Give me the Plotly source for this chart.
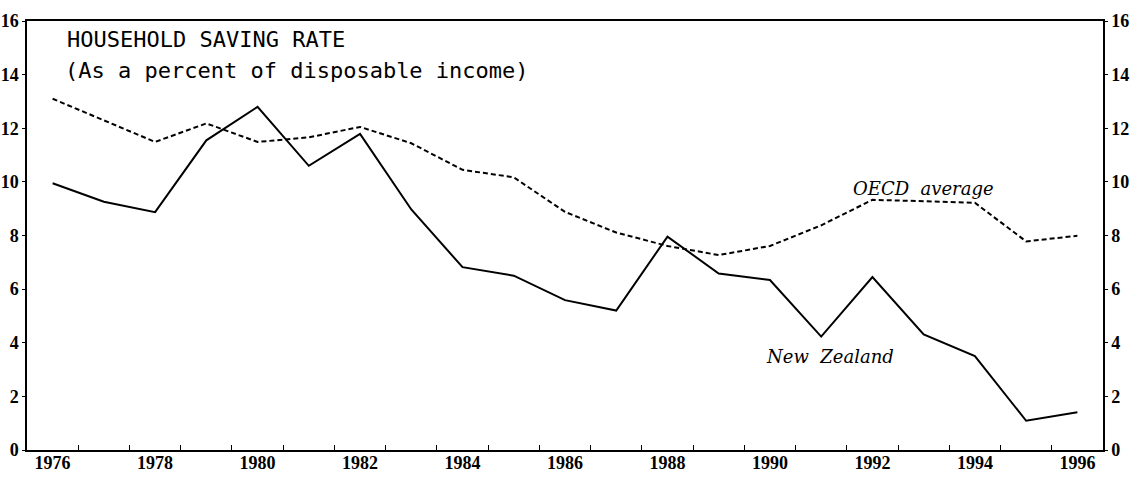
import plotly.graph_objects as go

years = list(range(1976, 1997))
new_zealand = [9.95, 9.26, 8.87, 11.55, 12.8, 10.6, 11.79, 8.97, 6.82, 6.5, 5.59,
               5.2, 7.96, 6.58, 6.34, 4.23, 6.45, 4.31, 3.5, 1.09, 1.41]
oecd_average = [13.1, 12.3, 11.49, 12.18, 11.49, 11.66, 12.05, 11.44, 10.45, 10.17, 8.88,
                8.11, 7.61, 7.27, 7.61, 8.38, 9.33, 9.28, 9.22, 7.78, 7.99]
x_tick_labels = [str(y) for y in range(1976, 1997, 2)]
y_ticks = list(range(0, 17, 2))

tick_font = dict(family="Liberation Serif", size=18, color="black", weight="bold")

fig = go.Figure()
fig.add_trace(go.Scatter(x=years, y=oecd_average, mode="lines",
                         line=dict(color="black", width=2, dash="5px,3px"),
                         showlegend=False))
fig.add_trace(go.Scatter(x=years, y=new_zealand, mode="lines",
                         line=dict(color="black", width=2),
                         showlegend=False))
# invisible trace to activate right axis
fig.add_trace(go.Scatter(x=[years[0]], y=[0], yaxis="y2", mode="markers",
                         marker=dict(opacity=0), showlegend=False, hoverinfo="skip"))

fig.update_layout(
    width=1138, height=481,
    margin=dict(l=27, r=35, t=21, b=31),
    paper_bgcolor="white", plot_bgcolor="white",
    xaxis=dict(range=[1975.5, 1996.5], tickvals=[int(t) for t in x_tick_labels],
               ticktext=x_tick_labels, ticks="", showgrid=False, zeroline=False,
               showline=True, linecolor="black", linewidth=1.5, mirror=True,
               tickfont=tick_font, ticklabelstandoff=-4, automargin=False,
               minor=dict(tickvals=[y + 0.5 for y in range(1976, 1996)],
                          ticks="inside", ticklen=5, tickcolor="black", tickwidth=1)),
    yaxis=dict(range=[0, 16], tickvals=y_ticks, ticks="outside", ticklen=3,
               tickcolor="black", showgrid=False, zeroline=False,
               showline=True, linecolor="black", linewidth=1.5, automargin=False,
               tickfont=tick_font, ticklabelstandoff=0),
    yaxis2=dict(range=[0, 16], tickvals=y_ticks, ticks="outside", ticklen=3,
                tickcolor="black", overlaying="y", side="right", showgrid=False,
                zeroline=False, showline=True, linecolor="black", linewidth=1.5,
                automargin=False, tickfont=tick_font, ticklabelstandoff=0),
    annotations=[
        dict(x=1976.24, y=15.3, xref="x", yref="y", text="HOUSEHOLD SAVING RATE",
             showarrow=False, xanchor="left", yanchor="middle",
             font=dict(family="DejaVu Sans Mono", size=22, color="black")),
        dict(x=1976.2, y=14.15, xref="x", yref="y",
             text="(As a percent of disposable income)",
             showarrow=False, xanchor="left", yanchor="middle",
             font=dict(family="DejaVu Sans Mono", size=22, color="black")),
        dict(x=1993.0, y=9.75, xref="x", yref="y", text="<i>OECD  average</i>",
             showarrow=False, xanchor="center", yanchor="middle",
             font=dict(family="DejaVu Serif", size=18, color="black")),
        dict(x=1991.17, y=3.5, xref="x", yref="y", text="<i>New  Zealand</i>",
             showarrow=False, xanchor="center", yanchor="middle",
             font=dict(family="DejaVu Serif", size=18, color="black")),
    ],
)

fig.write_html("out.html", config={"displayModeBar": False},
               post_script="document.body.style.margin='0';document.body.style.overflow='hidden';")
